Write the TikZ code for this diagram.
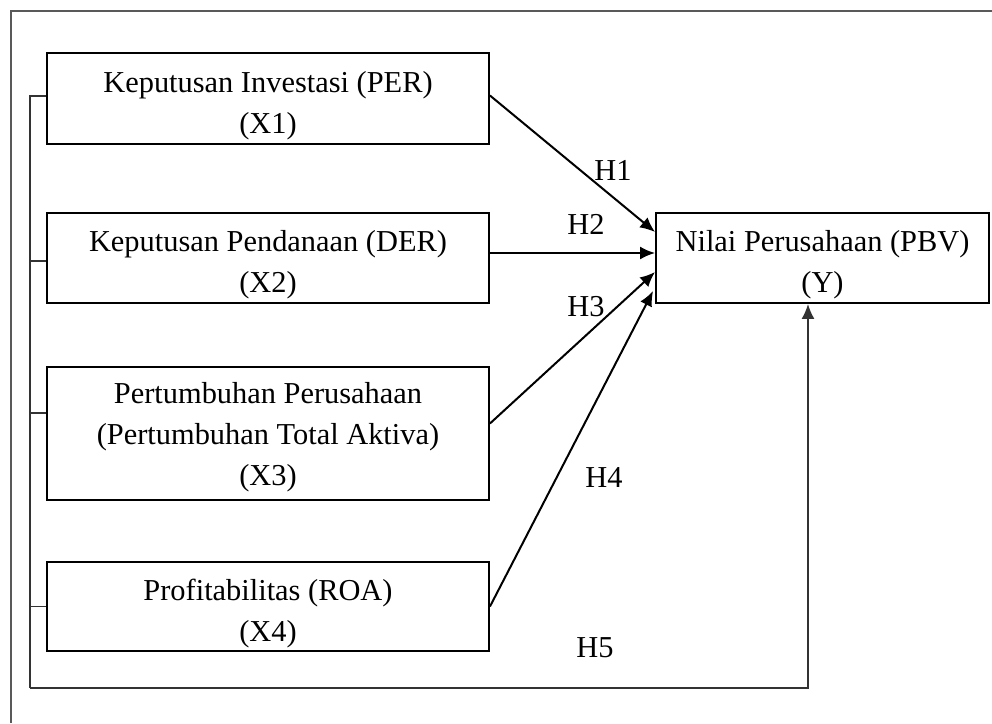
\documentclass[tikz,border=0pt]{standalone}
\usepackage{fontspec}
\setmainfont{Liberation Serif}
\usetikzlibrary{arrows.meta}

\newcommand{\lift}[1][1.15em]{\rule{0pt}{#1}}

\begin{document}
\begin{tikzpicture}[x=1pt, y=-1pt,
    var/.style={draw=black, line width=1.9pt, align=center, inner sep=0pt,
                minimum width=442pt, font=\fontsize{30.4}{41}\selectfont},
    hyp/.style={-{Latex[length=15pt,width=13pt]}, line width=2pt},
    bus/.style={draw=black!80, line width=1.7pt},
    lbl/.style={font=\fontsize{30.4}{34}\selectfont, inner sep=0pt}]

    % canvas
    \useasboundingbox (0,0) rectangle (992,723);
    \draw [black!65, line width=1.5pt] (11,723) -- (11,11) -- (992,11);

    % constants
    \def\xc{268}

    % independent variables
    \node [var, minimum height=91pt] (x1) at (\xc,98.5) {\lift Keputusan Investasi (PER)\\(X1)};
    \node [var, minimum height=90pt] (x2) at (\xc,258) {\lift Keputusan Pendanaan (DER)\\(X2)};
    \node [var, minimum height=133pt] (x3) at (\xc,433.5) {\lift[0.95em]Pertumbuhan Perusahaan\\(Pertumbuhan Total Aktiva)\\(X3)};
    \node [var, minimum height=89pt] (x4) at (\xc,606.5) {\lift Profitabilitas (ROA)\\(X4)};

    % dependent variable
    \node [var, minimum width=333pt, minimum height=90pt] (y) at (822.5,258) {\lift Nilai Perusahaan (PBV)\\(Y)};

    % hypotheses
    \draw [hyp] ([yshift=3pt]x1.east) -- ([yshift=26pt]y.west);
    \draw [hyp] ([yshift=5pt]x2.east) -- ([yshift=5pt]y.west);
    \draw [hyp] ([yshift=10pt]x3.east) -- ([yshift=-14pt]y.west);
    \draw [hyp] (x4.east) -- ([xshift=-2pt,yshift=-33pt]y.west);

    % simultaneous path
    \coordinate (bl) at (30,688);
    \draw [bus] ([yshift=2.5pt]x1.west) -| (bl);
    \draw [bus] ([yshift=-3pt]x2.west) -- ([yshift=-3pt]x2.west -| bl);
    \draw [bus] ([yshift=20.5pt]x3.west) -- ([yshift=20.5pt]x3.west -| bl);
    \draw [bus] (x4.west) -- (x4.west -| bl);
    \draw [bus, -{Latex[length=15pt,width=13pt]}] (bl) -| ([xshift=-14.5pt]y.south);

    \node [lbl] (h1) at (613,170) {H1};
    \node [lbl] (h2) at (586,224) {H2};
    \node [lbl] (h3) at (586,307) {H3};
    \node [lbl] (h4) at (604,477) {H4};
    \node [lbl] (h5) at (595,648) {H5};

\end{tikzpicture}
\end{document}
